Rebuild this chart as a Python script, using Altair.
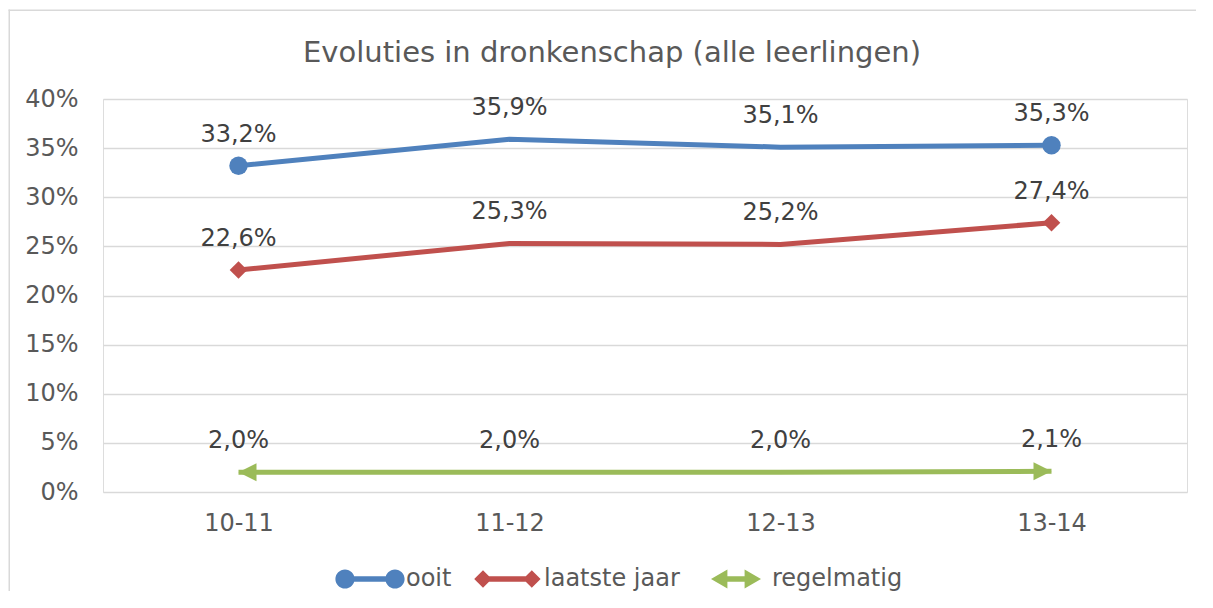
import altair as alt
import pandas as pd

# ---- data ----
jaren = ["10-11", "11-12", "12-13", "13-14"]
series = ["ooit", "laatste jaar", "regelmatig"]
ooit = [33.2, 35.9, 35.1, 35.3]
laatste_jaar = [22.6, 25.3, 25.2, 27.4]
regelmatig = [2.0, 2.0, 2.0, 2.1]
y_ticks = [0, 5, 10, 15, 20, 25, 30, 35, 40]
kleuren = ["#4f81bd", "#c0504d", "#9bbb59"]

rows = []
for s, vals in zip(series, [ooit, laatste_jaar, regelmatig]):
    for j, v in zip(jaren, vals):
        rows.append({"jaar": j, "serie": s, "waarde": v,
                     "label": f"{v:.1f}%".replace(".", ",")})
df = pd.DataFrame(rows)

FONT = "DejaVu Sans"
W, H = 1084, 393
PAD = {"left": 95, "top": 91, "right": 10, "bottom": 100}

# legend symbols: line with end markers (units of 8px at size 256)
p_ooit = ("M-1.2,0A1.2,1.2,0,1,1,1.2,0A1.2,1.2,0,1,1,-1.2,0Z"
          "M0,-0.33L6.25,-0.33L6.25,0.33L0,0.33Z"
          "M5.05,0A1.2,1.2,0,1,1,7.45,0A1.2,1.2,0,1,1,5.05,0Z")
p_laatste = ("M-1.1,0L0,-1.1L1.1,0L0,1.1Z"
             "M0,-0.33L6.1,-0.33L6.1,0.33L0,0.33Z"
             "M5.0,0L6.1,-1.1L7.2,0L6.1,1.1Z")
p_regel = ("M0,0L2.05,-1.2L2.05,1.2Z"
           "M1.5,-0.33L4.8,-0.33L4.8,0.33L1.5,0.33Z"
           "M6.25,0L4.2,1.2L4.2,-1.2Z")
arrow_left = "M0,0L2,-1L2,1Z"
arrow_right = "M0,0L-2,1L-2,-1Z"

x_enc = alt.X("jaar:N", sort=jaren,
              scale=alt.Scale(type="point", padding=0.5),
              axis=alt.Axis(title=None, labelAngle=0, domain=False, ticks=False,
                            tickSize=0, grid=False, labelPadding=19,
                            labelBaseline="top", labelFontSize=24,
                            labelFont=FONT, labelColor="#595959"))
y_enc = alt.Y("waarde:Q",
              scale=alt.Scale(domain=[0, 40], nice=False, zero=True),
              axis=alt.Axis(title=None, values=y_ticks, labelExpr="datum.value + '%'",
                            domain=False, ticks=False, tickSize=0, grid=True,
                            gridColor="#d9d9d9", gridWidth=1.5, labelPadding=25,
                            labelFontSize=24, labelFont=FONT, labelColor="#595959"))
color_scale = alt.Scale(domain=series, range=kleuren)
col_nolegend = alt.Color("serie:N", scale=color_scale, legend=None)

base = alt.Chart(df)

legend_kw = dict(title=None, orient="none", legendX=230, legendY=468,
                 direction="horizontal", symbolSize=256, labelOffset=49,
                 columnPadding=19, labelFontSize=24, labelFont=FONT,
                 labelColor="#595959", symbolStrokeWidth=0, symbolOpacity=1,
                 padding=0, labelLimit=400)
legend_layer = base.mark_point(filled=True, opacity=1).encode(
    x=x_enc, y=y_enc,
    color=alt.Color("serie:N", scale=color_scale, sort=series,
                    legend=alt.Legend(**legend_kw)),
    shape=alt.Shape("serie:N", sort=series,
                    scale=alt.Scale(domain=series, range=[p_ooit, p_laatste, p_regel]),
                    legend=alt.Legend(**legend_kw)),
).transform_filter("false")

# chart-area border (top and left edges, as in the reference)
one_row = f"datum.jaar == '{jaren[0]}' && datum.serie == '{series[0]}'"
border_top = base.mark_rect(color="#d9d9d9", opacity=1).encode(
    x=alt.value(-94.5), x2=alt.value(W + PAD["right"] - 1),
    y=alt.value(-89.5), y2=alt.value(-88)
).transform_filter(one_row)
border_left = base.mark_rect(color="#d9d9d9", opacity=1).encode(
    x=alt.value(-94.5), x2=alt.value(-93),
    y=alt.value(-89.5), y2=alt.value(H + PAD["bottom"] - 1)
).transform_filter(one_row)

lines = base.mark_line(strokeWidth=5, strokeJoin="round").encode(
    x=x_enc, y=y_enc, color=col_nolegend, detail="serie:N")

first_last = f"(datum.jaar == '{jaren[0]}' || datum.jaar == '{jaren[-1]}')"
circles = base.mark_point(shape="circle", filled=True, size=340, opacity=1).encode(
    x=x_enc, y=y_enc, color=col_nolegend
).transform_filter(f"datum.serie == '{series[0]}' && {first_last}")
diamonds = base.mark_point(shape="diamond", filled=True, size=310, opacity=1).encode(
    x=x_enc, y=y_enc, color=col_nolegend
).transform_filter(f"datum.serie == '{series[1]}' && {first_last}")
arr_l = base.mark_point(shape=arrow_left, filled=True, size=324, opacity=1).encode(
    x=x_enc, y=y_enc, color=col_nolegend
).transform_filter(f"datum.serie == '{series[2]}' && datum.jaar == '{jaren[0]}'")
arr_r = base.mark_point(shape=arrow_right, filled=True, size=324, opacity=1).encode(
    x=x_enc, y=y_enc, color=col_nolegend
).transform_filter(f"datum.serie == '{series[2]}' && datum.jaar == '{jaren[-1]}'")

labels = base.mark_text(dy=-24, baseline="alphabetic", fontSize=24, font=FONT,
                        color="#404040").encode(x=x_enc, y=y_enc, text="label:N")

chart = alt.layer(legend_layer, border_top, border_left, lines, circles, diamonds,
                  arr_l, arr_r, labels).properties(
    width=W, height=H,
    autosize=alt.AutoSizeParams(type="none"),
    padding=PAD,
    title=alt.TitleParams("Evoluties in dronkenschap (alle leerlingen)",
                          fontSize=29, font=FONT, fontWeight="normal",
                          color="#595959", anchor="middle", frame="group",
                          dx=-33, offset=0, dy=81, baseline="alphabetic"),
).configure_view(stroke=None).configure(background="white")

chart.save("out.html", embed_options={"renderer": "svg", "actions": False})
